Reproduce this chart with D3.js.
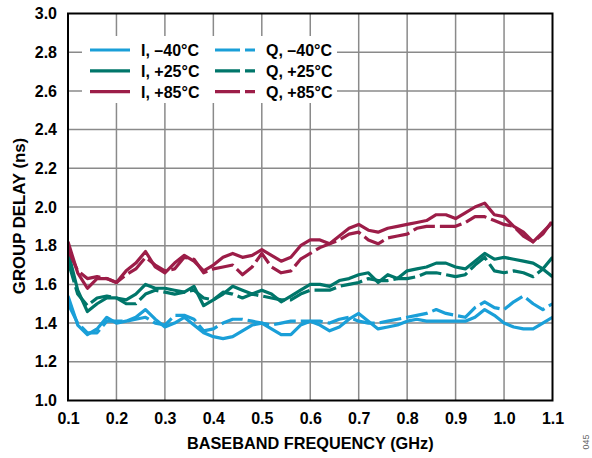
<!DOCTYPE html>
<html><head><meta charset="utf-8">
<script src="https://cdn.jsdelivr.net/npm/d3@7"></script>
<style>body{margin:0;background:#fff}svg{display:block}</style>
</head><body>
<svg id="c" width="592" height="458"></svg>
<script>
const freq = d3.range(51).map(i => +(0.10 + i*0.02).toFixed(2));
const xTicks = [0.1,0.2,0.3,0.4,0.5,0.6,0.7,0.8,0.9,1.0,1.1];
const yTicks = [1.0,1.2,1.4,1.6,1.8,2.0,2.2,2.4,2.6,2.8,3.0];

const I_m40 = [1.54,1.39,1.34,1.37,1.43,1.40,1.41,1.43,1.47,1.42,1.38,1.40,1.43,1.39,1.35,1.33,1.32,1.33,1.36,1.39,1.40,1.37,1.34,1.34,1.39,1.41,1.39,1.36,1.38,1.42,1.45,1.41,1.37,1.38,1.39,1.41,1.42,1.41,1.41,1.41,1.41,1.41,1.43,1.47,1.44,1.40,1.38,1.37,1.37,1.40,1.43];
const Q_m40 = [1.50,1.40,1.35,1.35,1.41,1.41,1.41,1.42,1.43,1.40,1.39,1.44,1.44,1.42,1.36,1.37,1.40,1.42,1.42,1.41,1.40,1.39,1.40,1.41,1.41,1.41,1.41,1.40,1.42,1.43,1.41,1.40,1.40,1.41,1.42,1.43,1.44,1.45,1.47,1.45,1.44,1.43,1.48,1.51,1.48,1.47,1.51,1.54,1.50,1.47,1.50];
const I_p25 = [1.77,1.57,1.46,1.50,1.53,1.53,1.52,1.55,1.60,1.58,1.58,1.57,1.56,1.59,1.49,1.52,1.55,1.59,1.57,1.55,1.57,1.55,1.51,1.54,1.57,1.60,1.60,1.59,1.62,1.63,1.65,1.66,1.61,1.65,1.63,1.67,1.68,1.69,1.71,1.71,1.69,1.68,1.72,1.76,1.73,1.74,1.73,1.72,1.71,1.68,1.74];
const Q_p25 = [1.72,1.55,1.49,1.53,1.54,1.53,1.50,1.50,1.55,1.57,1.56,1.55,1.56,1.57,1.53,1.52,1.56,1.55,1.53,1.55,1.54,1.53,1.52,1.52,1.55,1.57,1.57,1.57,1.59,1.60,1.61,1.63,1.62,1.62,1.63,1.63,1.64,1.66,1.66,1.65,1.64,1.65,1.70,1.74,1.67,1.66,1.67,1.66,1.64,1.68,1.64];
const I_p85 = [1.82,1.66,1.58,1.63,1.63,1.61,1.67,1.71,1.77,1.69,1.66,1.71,1.75,1.72,1.67,1.70,1.74,1.76,1.74,1.75,1.78,1.75,1.72,1.74,1.80,1.83,1.83,1.81,1.85,1.89,1.91,1.88,1.87,1.89,1.90,1.91,1.92,1.93,1.96,1.96,1.94,1.97,2.00,2.02,1.96,1.95,1.90,1.87,1.82,1.87,1.92];
const Q_p85 = [1.78,1.67,1.63,1.64,1.63,1.61,1.65,1.68,1.74,1.70,1.67,1.68,1.74,1.73,1.66,1.68,1.69,1.70,1.65,1.69,1.76,1.69,1.66,1.67,1.73,1.76,1.79,1.81,1.83,1.86,1.87,1.83,1.81,1.84,1.85,1.86,1.89,1.90,1.90,1.90,1.90,1.92,1.95,1.95,1.93,1.91,1.90,1.85,1.82,1.86,1.93];

const seriesNames = ["I, \u201340\u00B0C","I, +25\u00B0C","I, +85\u00B0C","Q, \u201340\u00B0C","Q, +25\u00B0C","Q, +85\u00B0C"];
const colors = {m40:"#1a9fd8", p25:"#00766a", p85:"#9c1d48"};

const series = [
  {name:seriesNames[0], v:I_m40, c:colors.m40, dash:false},
  {name:seriesNames[1], v:I_p25, c:colors.p25, dash:false},
  {name:seriesNames[2], v:I_p85, c:colors.p85, dash:false},
  {name:seriesNames[3], v:Q_m40, c:colors.m40, dash:true},
  {name:seriesNames[4], v:Q_p25, c:colors.p25, dash:true},
  {name:seriesNames[5], v:Q_p85, c:colors.p85, dash:true}
];

const L=68, R=552.5, T=13.5, B=400.5;
const x = d3.scaleLinear().domain([0.1,1.1]).range([L,R]);
const y = d3.scaleLinear().domain([1,3]).range([B,T]);
const svg = d3.select("#c");
const font = "'Liberation Sans', Arial, sans-serif";

// grid
const g = svg.append("g");
g.selectAll(".gx").data(xTicks.slice(1,-1)).enter().append("line")
  .attr("x1",d=>x(d)).attr("x2",d=>x(d)).attr("y1",T).attr("y2",B)
  .attr("stroke","#8a8a8a").attr("stroke-width",1.5);
g.selectAll(".gy").data(yTicks.slice(1,-1)).enter().append("line")
  .attr("x1",L).attr("x2",R).attr("y1",d=>y(d)).attr("y2",d=>y(d))
  .attr("stroke","#8a8a8a").attr("stroke-width",1.5);

// legend background
svg.append("rect").attr("x",82).attr("y",36).attr("width",255).attr("height",67).attr("fill","#fff");

// lines
svg.append("clipPath").attr("id","cp").append("rect")
  .attr("x",L).attr("y",T).attr("width",R-L).attr("height",B-T);
const line = d3.line().x((d,i)=>x(freq[i])).y(d=>y(d));
const order = [3,0,4,1,5,2];
svg.append("g").attr("clip-path","url(#cp)").selectAll("path").data(order.map(i=>series[i])).enter().append("path")
  .attr("d",d=>line(d.v)).attr("fill","none").attr("stroke",d=>d.c)
  .attr("stroke-width",3.2).attr("stroke-linejoin","round")
  .attr("stroke-dasharray",d=>d.dash?"22,5":null);

// border
svg.append("rect").attr("x",L).attr("y",T).attr("width",R-L).attr("height",B-T)
  .attr("fill","none").attr("stroke","#000").attr("stroke-width",2);

// axes labels
const xa = d3.axisBottom(x).tickValues(xTicks).tickFormat(d3.format(".1f")).tickSize(0).tickPadding(12);
const gxA = svg.append("g").attr("transform",`translate(0,${B})`).call(xa);
gxA.select(".domain").remove();
gxA.selectAll("text").attr("font-family",font).attr("font-weight","bold").attr("font-size",16).attr("fill","#000");
const ya = d3.axisLeft(y).tickValues(yTicks).tickFormat(d3.format(".1f")).tickSize(0).tickPadding(11);
const gyA = svg.append("g").attr("transform",`translate(${L},0)`).call(ya);
gyA.select(".domain").remove();
gyA.selectAll("text").attr("font-family",font).attr("font-weight","bold").attr("font-size",16).attr("fill","#000");

svg.append("text").attr("x",(L+R)/2).attr("y",449).attr("text-anchor","middle")
  .attr("font-family",font).attr("font-weight","bold").attr("font-size",16.3).text("BASEBAND FREQUENCY (GHz)");
svg.append("text").attr("transform",`translate(25,216) rotate(-90)`).attr("text-anchor","middle")
  .attr("font-family",font).attr("font-weight","bold").attr("font-size",16.8).text("GROUP DELAY (ns)");
svg.append("text").attr("transform","translate(589,442) rotate(-90)").attr("text-anchor","middle")
  .attr("font-family",font).attr("font-size",9).attr("fill","#666").text("045");

// legend
const lg = svg.append("g");
series.forEach((s,i)=>{
  const col = s.dash?1:0, row = i%3;
  const x0 = col? 215 : 90, yy = 50 + row*20.8;
  lg.append("line").attr("x1",x0).attr("x2",x0+40).attr("y1",yy).attr("y2",yy)
    .attr("stroke",s.c).attr("stroke-width",3.2).attr("stroke-dasharray",s.dash?"25,5":null);
  lg.append("text").attr("x",x0+51).attr("y",yy+6).attr("font-family",font).attr("font-weight","bold")
    .attr("font-size",16).text(s.name);
});
</script>
</body></html>
